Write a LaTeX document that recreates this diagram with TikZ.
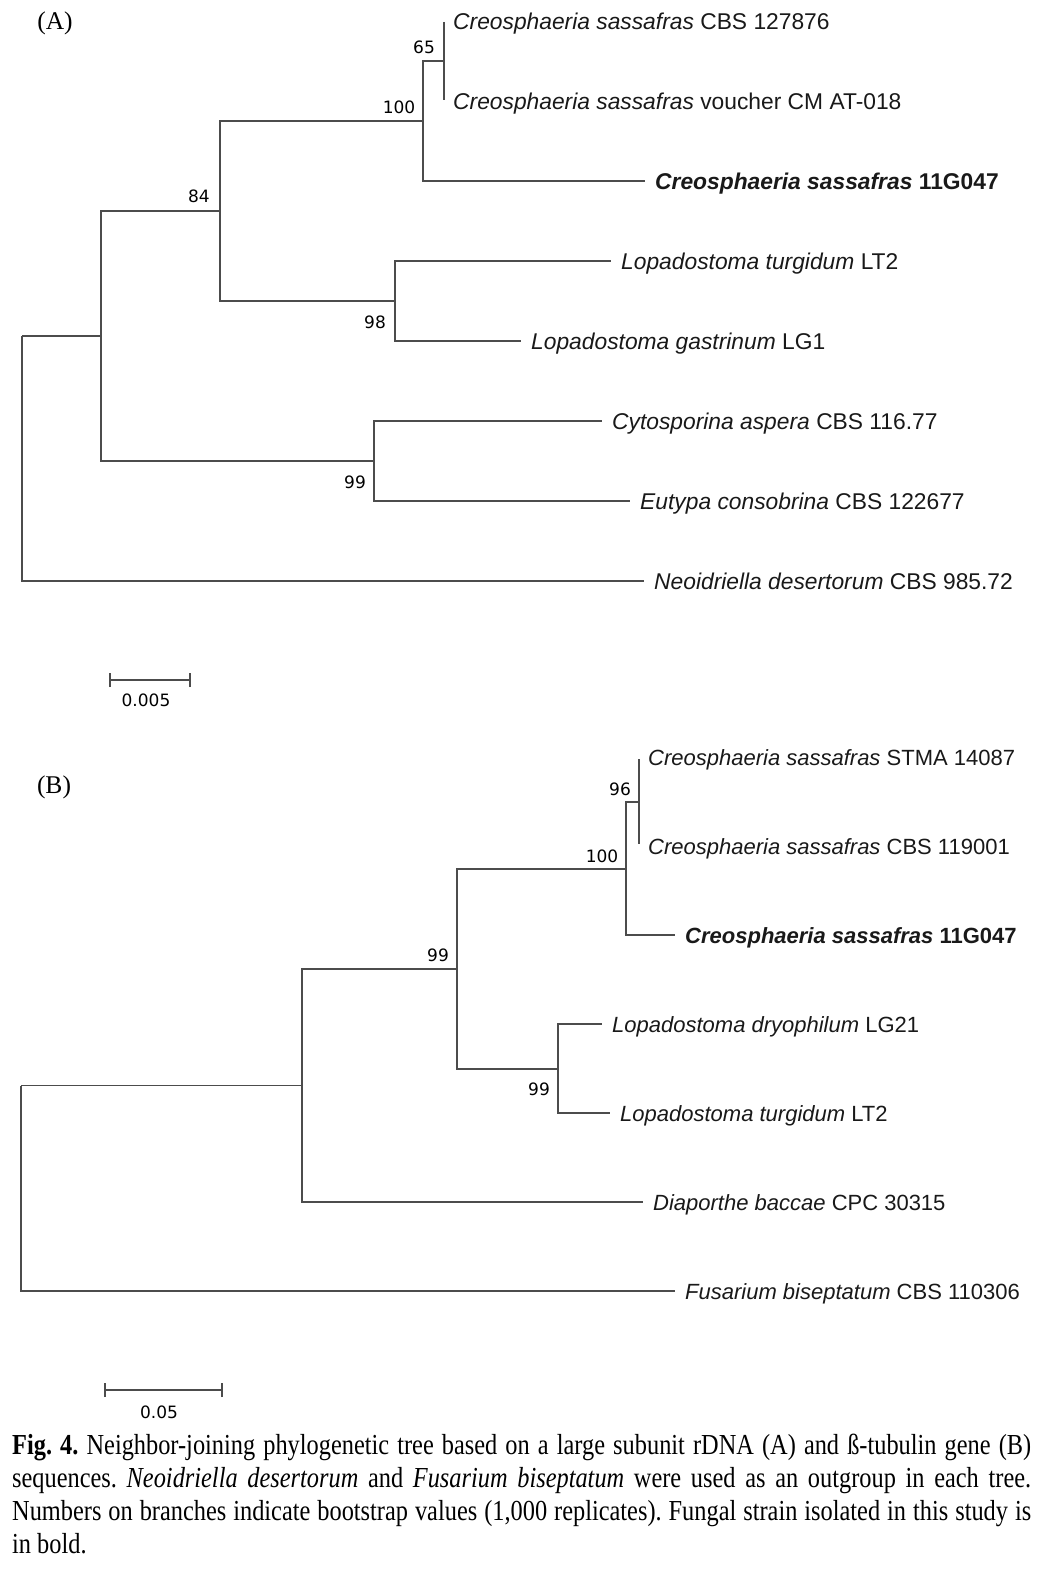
\documentclass[tikz,border=0pt]{standalone}
\usepackage{fontspec}
\setmainfont{Liberation Serif}
\newfontfamily\leaffont{Liberation Sans}
\newfontfamily\bsfont{DejaVu Sans}
\newfontfamily\capfont[FakeStretch=0.84]{Liberation Serif}
\newcommand\capline[1]{\hbox to 1019pt{\frenchspacing\spaceskip=0.25em plus 0.6em minus 0.14em #1}}
\begin{document}
\begin{tikzpicture}[x=1pt,y=-1pt,
  br/.style={draw=black!70, line width=1.3pt},
  leaf/.style={anchor=west, inner sep=0pt, font=\leaffont\fontsize{22.8}{26}\selectfont, text height=16.5pt, text depth=0pt, text=black!90},
  leafb/.style={leaf, font=\leaffont\fontsize{22}{26}\selectfont, text height=16pt},
  bs/.style={inner sep=0pt, font=\bsfont\fontsize{17}{19}\selectfont, text=black},
  panel/.style={inner sep=0pt, font=\fontsize{25.5}{28}\selectfont},
  capn/.style={anchor=base west, inner sep=0pt, font=\capfont\fontsize{29}{33}\selectfont},
  tk/.style={shorten >=10pt}]
\useasboundingbox (0,0) rectangle (1053,1573);
\fill[white] (0,0) rectangle (1053,1573);

% ---------- Tree A ----------
\node[panel] (pA) at (55,23) {(A)};
\coordinate (aR) at (22,336);
\coordinate (aN1) at (101,336);
\coordinate (aN84) at (220,211);
\coordinate (aN100) at (423,121);
\coordinate (aN65) at (444,61);
\coordinate (aN98) at (395,301);
\coordinate (aN99) at (374,461);

\node[leaf] (a1) at (453,21) {\itshape Creosphaeria sassafras\/\upshape\ CBS 127876};
\node[leaf] (a2) at (453,101) {\itshape Creosphaeria sassafras\/\upshape\ voucher CM AT-018};
\node[leaf] (a3) at (655,181) {\bfseries\itshape Creosphaeria sassafras\/\upshape\ 11G047};
\node[leaf] (a4) at (621,261) {\itshape Lopadostoma turgidum\/\upshape\ LT2};
\node[leaf] (a5) at (531,341) {\itshape Lopadostoma gastrinum\/\upshape\ LG1};
\node[leaf] (a6) at (612,421) {\itshape Cytosporina aspera\/\upshape\ CBS 116.77};
\node[leaf] (a7) at (640,501) {\itshape Eutypa consobrina\/\upshape\ CBS 122677};
\node[leaf] (a8) at (654,581) {\itshape Neoidriella desertorum\/\upshape\ CBS 985.72};

\draw[br] (aR) |- (aN1);
\draw[br,tk] (aR) |- (a8.west);
\draw[br] (aN1) |- (aN84);
\draw[br] (aN1) |- (aN99);
\draw[br] (aN84) |- (aN100);
\draw[br] (aN84) |- (aN98);
\draw[br] (aN100) |- (aN65);
\draw[br,tk] (aN100) |- (a3.west);
\draw[br] ([yshift=-1pt]a1.west -| aN65) -- ([yshift=1pt]a2.west -| aN65);
\draw[br,tk] (aN98) |- (a4.west);
\draw[br,tk] (aN98) |- (a5.west);
\draw[br,tk] (aN99) |- (a6.west);
\draw[br,tk] (aN99) |- (a7.west);

\node[bs] (bA65) at (424,47) {65};
\node[bs] (bA100) at (399,107) {100};
\node[bs] (bA84) at (199,196) {84};
\node[bs] (bA98) at (375,322) {98};
\node[bs] (bA99) at (355,482) {99};

\coordinate (sA1) at (110,680);
\coordinate (sA2) at (190,680);
\draw[br] (sA1) -- (sA2);
\draw[br] ([yshift=-7pt]sA1) -- ([yshift=7pt]sA1);
\draw[br] ([yshift=-7pt]sA2) -- ([yshift=7pt]sA2);
\node[bs] (lsA) at (146,700) {0.005};

% ---------- Tree B ----------
\node[panel] (pB) at (54,787) {(B)};
\coordinate (bR) at (21,1085.5);
\coordinate (bN1) at (302,1085.5);
\coordinate (bN99u) at (457,969);
\coordinate (bN100) at (626,869);
\coordinate (bN96) at (639,802);
\coordinate (bN99l) at (558,1069);

\node[leafb] (b1) at (648,757) {\itshape Creosphaeria sassafras\/\upshape\ STMA 14087};
\node[leafb] (b2) at (648,846) {\itshape Creosphaeria sassafras\/\upshape\ CBS 119001};
\node[leafb] (b3) at (685,935) {\bfseries\itshape Creosphaeria sassafras\/\upshape\ 11G047};
\node[leafb] (b4) at (612,1024) {\itshape Lopadostoma dryophilum\/\upshape\ LG21};
\node[leafb] (b5) at (620,1113) {\itshape Lopadostoma turgidum\/\upshape\ LT2};
\node[leafb] (b6) at (653,1202) {\itshape Diaporthe baccae\/\upshape\ CPC 30315};
\node[leafb] (b7) at (685,1291) {\itshape Fusarium biseptatum\/\upshape\ CBS 110306};

\draw[br] (bR) |- (bN1);
\draw[br,tk] (bR) |- (b7.west);
\draw[br] (bN1) |- (bN99u);
\draw[br,tk] (bN1) |- (b6.west);
\draw[br] (bN99u) |- (bN100);
\draw[br] (bN99u) |- (bN99l);
\draw[br] (bN100) |- (bN96);
\draw[br,tk] (bN100) |- (b3.west);
\draw[br] ([yshift=-2pt]b1.west -| bN96) -- ([yshift=2pt]b2.west -| bN96);
\draw[br,tk] (bN99l) |- (b4.west);
\draw[br,tk] (bN99l) |- (b5.west);

\node[bs] (bB96) at (620,789) {96};
\node[bs] (bB100) at (602,856) {100};
\node[bs] (bB99u) at (438,955) {99};
\node[bs] (bB99l) at (539,1089) {99};

\coordinate (sB1) at (105,1390);
\coordinate (sB2) at (222,1390);
\draw[br] (sB1) -- (sB2);
\draw[br] ([yshift=-7pt]sB1) -- ([yshift=7pt]sB1);
\draw[br] ([yshift=-7pt]sB2) -- ([yshift=7pt]sB2);
\node[bs] (lsB) at (159,1412) {0.05};

% ---------- Caption ----------
\node[capn] (c1) at (12,1454) {\capline{{\bfseries Fig. 4.} Neighbor-joining phylogenetic tree based on a large subunit rDNA (A) and ß-tubulin gene (B)}};
\node[capn] (c2) at (12,1487) {\capline{sequences. {\itshape Neoidriella desertorum} and {\itshape Fusarium biseptatum} were used as an outgroup in each tree.}};
\node[capn] (c3) at (12,1520) {\capline{Numbers on branches indicate bootstrap values (1,000 replicates). Fungal strain isolated in this study is}};
\node[capn] (c4) at (12,1553) {in bold.};
\end{tikzpicture}
\end{document}
